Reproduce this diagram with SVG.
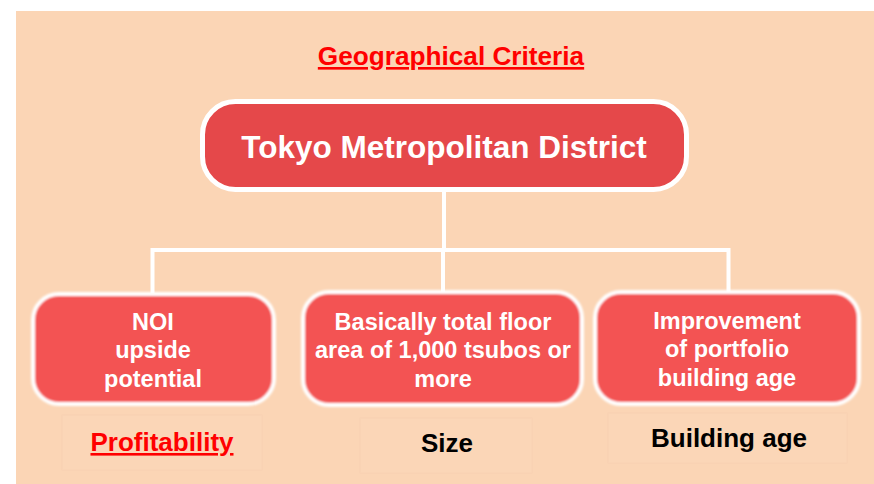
<svg xmlns="http://www.w3.org/2000/svg" width="874" height="484" viewBox="0 0 874 484">
  <defs>
    <filter id="soft" x="-5%" y="-10%" width="110%" height="120%">
      <feGaussianBlur stdDeviation="0.8"/>
    </filter>
  </defs>
  <style>
    .bg { fill: #FBD5B5; }
    .root { fill: #E5484A; stroke: #FFFFFF; stroke-width: 5; }
    .leaf { fill: #F35253; stroke: #FFFFFF; stroke-width: 4; filter: url(#soft); }
    .link { fill: none; stroke: #FFFFFF; stroke-width: 4; stroke-linejoin: miter; }
    .labelbox { fill: #FBD6B7; stroke: #F7D1B1; stroke-width: 1; stroke-opacity: 0.6; }
    text { font-family: "Liberation Sans", Arial, sans-serif; font-weight: bold; text-anchor: middle; }
    .white { fill: #FFFFFF; }
    .rootText { font-size: 31.5px; }
    .leafText { font-size: 23.5px; }
    .title { font-size: 26.2px; fill: #FF0000; text-decoration: underline; }
    .cat { font-size: 26px; fill: #000000; }
    .catRed { font-size: 26px; fill: #FF0000; text-decoration: underline; }
  </style>

  <!-- backdrop -->
  <rect class="bg" x="16" y="11" width="858" height="473"/>

  <!-- heading -->
  <text class="title" x="451" y="65">Geographical Criteria</text>

  <!-- connectors -->
  <g id="connectors">
    <path class="link" d="M444 191 V250"/>
    <path class="link" d="M152.5 293 V250 H728.5 V292"/>
    <path class="link" d="M443 250 V292"/>
  </g>

  <!-- top node -->
  <g id="node-tokyo">
    <rect class="root" x="202.5" y="101.5" width="484" height="88" rx="33"/>
    <text class="white rootText" x="444" y="158">Tokyo Metropolitan District</text>
  </g>

  <!-- child nodes -->
  <g id="node-noi">
    <rect class="leaf" x="33" y="294" width="241" height="110" rx="26"/>
    <text class="white leafText" x="153" y="330">NOI</text>
    <text class="white leafText" x="153" y="358">upside</text>
    <text class="white leafText" x="153" y="387">potential</text>
  </g>

  <g id="node-size">
    <rect class="leaf" x="303" y="292" width="279" height="113" rx="26"/>
    <text class="white leafText" x="443" y="330">Basically total floor</text>
    <text class="white leafText" x="443" y="358">area of 1,000 tsubos or</text>
    <text class="white leafText" x="443" y="387">more</text>
  </g>

  <g id="node-age">
    <rect class="leaf" x="595" y="292" width="264" height="112" rx="26"/>
    <text class="white leafText" x="727" y="329">Improvement</text>
    <text class="white leafText" x="727" y="357">of portfolio</text>
    <text class="white leafText" x="727" y="386">building age</text>
  </g>

  <!-- category captions -->
  <g id="label-profitability">
    <rect class="labelbox" x="62" y="415" width="200" height="55"/>
    <text class="catRed" x="162" y="451">Profitability</text>
  </g>
  <g id="label-size">
    <rect class="labelbox" x="360" y="418" width="172" height="55"/>
    <text class="cat" x="447" y="452">Size</text>
  </g>
  <g id="label-age">
    <rect class="labelbox" x="608" y="413" width="239" height="50"/>
    <text class="cat" x="729" y="447">Building age</text>
  </g>
</svg>
